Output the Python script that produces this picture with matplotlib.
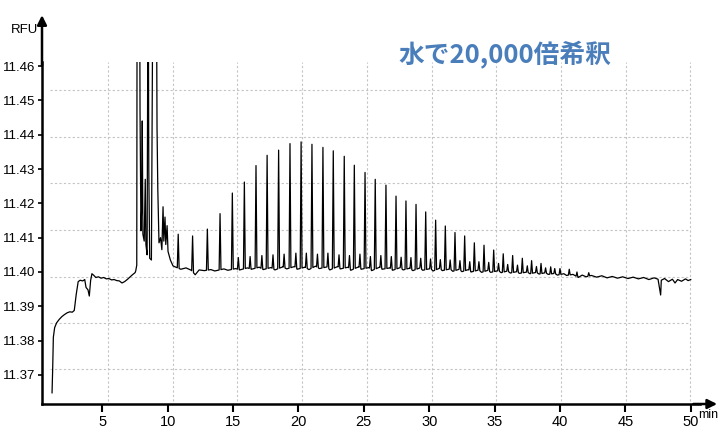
import numpy as np
import matplotlib
matplotlib.use("Agg")
import matplotlib.pyplot as plt

# --- trace (time in min, signal in RFU) ---
# baseline part of the trace, including the start-up drift
base_t = [1.15, 1.20, 1.25, 1.35, 1.50, 1.70, 1.90, 2.10, 2.30, 2.50, 2.70, 2.85,
          3.00, 3.15, 3.30, 3.50, 3.65, 3.75, 3.90, 4.00, 4.10, 4.20, 4.35, 4.50,
          4.70, 4.90, 5.10, 5.30, 5.50, 5.70, 5.90, 6.10, 6.30, 6.50, 6.70, 6.90,
          7.10, 7.30, 7.50,
          10.5, 11.0, 11.4, 11.8, 12.1, 12.4, 12.8, 13.3, 13.6, 14.3, 14.6, 15.2,
          15.5, 16.1, 16.4, 17.0, 17.3, 17.9, 18.2, 18.8, 19.1, 19.7, 19.9, 20.5,
          20.8, 21.3, 21.6, 22.2, 22.4, 23.0, 23.2, 23.8, 24.0, 24.6, 24.8, 25.4,
          25.6, 26.2, 26.4, 27.0, 27.2, 27.8, 28.0, 28.5, 28.75, 29.3, 29.5, 30.1,
          30.3, 30.8, 31.0, 31.6, 31.8, 32.3, 32.5, 33.0, 33.2, 33.8, 34.0, 34.5,
          34.7, 35.3, 35.5, 36.0, 36.2, 36.7, 36.9, 37.5, 37.7, 38.2, 38.4, 38.9,
          39.1, 39.6, 39.8, 40.3, 40.5, 41.0, 41.4, 41.7, 42.0, 42.4, 42.8, 43.2,
          43.6, 44.0, 44.4, 44.8, 45.2, 45.6, 46.0, 46.4, 46.8, 47.2, 47.5, 47.7,
          47.75, 48.0, 48.3, 48.6, 48.8, 49.0, 49.3, 49.6, 49.8, 50.0]
base_v = [11.3648, 11.3720, 11.3810, 11.3838, 11.3852, 11.3862, 11.3870, 11.3876,
          11.3881, 11.3884, 11.3883, 11.3888, 11.3935, 11.3972, 11.3976, 11.3974,
          11.3978, 11.3955, 11.3948, 11.3930, 11.3975, 11.3995, 11.3990, 11.3984,
          11.3986, 11.3982, 11.3984, 11.3980, 11.3981, 11.3977, 11.3978, 11.3975,
          11.3974, 11.3968, 11.3972, 11.3978, 11.3985, 11.3992, 11.3998,
          11.4016, 11.4008, 11.4012, 11.4005, 11.3992, 11.4006, 11.4004, 11.4007,
          11.4003, 11.4009, 11.4005, 11.4010, 11.4006, 11.4012, 11.4008, 11.4014,
          11.4007, 11.4013, 11.4006, 11.4015, 11.4009, 11.4016, 11.4008, 11.4014,
          11.4007, 11.4017, 11.4010, 11.4015, 11.4006, 11.4016, 11.4009, 11.4014,
          11.4005, 11.4015, 11.4008, 11.4013, 11.4004, 11.4014, 11.4008, 11.4012,
          11.4005, 11.4013, 11.4006, 11.4011, 11.4004, 11.4012, 11.4005, 11.4010,
          11.4003, 11.4011, 11.4004, 11.4009, 11.4002, 11.4008, 11.4001, 11.4007,
          11.4000, 11.4006, 11.3999, 11.4005, 11.3999, 11.4004, 11.3998, 11.4003,
          11.3997, 11.4001, 11.3996, 11.4000, 11.3995, 11.3999, 11.3994, 11.3998,
          11.3993, 11.3996, 11.3991, 11.3995, 11.3990, 11.3993, 11.3984, 11.3991,
          11.3986, 11.3990, 11.3985, 11.3989, 11.3983, 11.3987, 11.3982, 11.3986,
          11.3981, 11.3985, 11.3980, 11.3984, 11.3978, 11.3983, 11.3979, 11.3933,
          11.3976, 11.3981, 11.3972, 11.3979, 11.3968, 11.3978, 11.3973, 11.3980,
          11.3975, 11.3978]

# unresolved cluster just after the solvent front (tops go off scale)
cluster_t = [7.55, 7.63, 7.66, 7.84, 7.88, 7.95, 8.00, 8.05, 8.10, 8.20, 8.28,
             8.33, 8.42, 8.50, 8.55, 8.62, 8.75, 8.88, 9.12, 9.18, 9.24, 9.33,
             9.45, 9.55, 9.64, 9.70, 9.79, 9.85, 9.95, 10.02, 10.20, 10.40]
cluster_v = [11.4003, 11.4020, 11.5000, 11.5000, 11.4470, 11.4120, 11.4180,
             11.4440, 11.4110, 11.4090, 11.4270, 11.4080, 11.4050, 11.5000,
             11.4300, 11.4040, 11.4035, 11.5000, 11.5000, 11.4420, 11.4240,
             11.4085, 11.4100, 11.4065, 11.4190, 11.4090, 11.4160, 11.4080,
             11.4135, 11.4060, 11.4035, 11.4018]

# regularly spaced main peaks (apex values)
peak_t = [10.80, 11.90, 13.03, 14.00, 14.94, 15.86, 16.75, 17.60, 18.48, 19.35,
          20.20, 21.03, 21.87, 22.66, 23.50, 24.27, 25.09, 25.87, 26.69, 27.46,
          28.22, 28.99, 29.73, 30.49, 31.23, 31.97, 32.71, 33.45, 34.19, 34.93,
          35.66, 36.38, 37.12, 37.83, 38.55, 39.29, 40.00, 40.71]
peak_v = [11.4110, 11.4105, 11.4125, 11.4170, 11.4230, 11.4262, 11.4310, 11.4340,
          11.4355, 11.4374, 11.4379, 11.4372, 11.4363, 11.4353, 11.4337, 11.4311,
          11.4290, 11.4270, 11.4253, 11.4221, 11.4207, 11.4197, 11.4175, 11.4151,
          11.4134, 11.4115, 11.4105, 11.4085, 11.4078, 11.4064, 11.4053, 11.4048,
          11.4040, 11.4033, 11.4025, 11.4015, 11.4010, 11.4008]

# small peaks between the main ones
minor_t = [15.40, 16.30, 17.20, 18.05, 18.90, 19.80, 20.60, 21.45, 22.25, 23.10,
           23.90, 24.70, 25.50, 26.30, 27.10, 27.85, 28.60, 29.35, 30.10, 30.85,
           31.60, 32.35, 33.10, 33.80, 34.55, 35.30, 36.00, 36.75, 37.50, 38.20,
           38.90, 39.60, 41.30, 42.20]
minor_v = [11.4042, 11.4045, 11.4048, 11.4050, 11.4052, 11.4055, 11.4055, 11.4052,
           11.4055, 11.4050, 11.4048, 11.4052, 11.4045, 11.4048, 11.4045, 11.4043,
           11.4042, 11.4040, 11.4038, 11.4036, 11.4035, 11.4033, 11.4030, 11.4030,
           11.4028, 11.4025, 11.4022, 11.4020, 11.4018, 11.4016, 11.4012, 11.4010,
           11.4000, 11.3998]

x_ticks = [5, 10, 15, 20, 25, 30, 35, 40, 45, 50]
y_ticks = [11.37, 11.38, 11.39, 11.40, 11.41, 11.42, 11.43, 11.44, 11.45, 11.46]
title_text = "水で20,000倍希釈"
y_unit = "RFU"
x_unit = "min"

# grid of the original instrument plot (does not follow the ticks)
grid_x = [5.43, 10.40, 15.30, 20.27, 25.24, 30.21, 35.10, 40.08, 45.05, 49.94]
grid_y = [11.3718, 11.3852, 11.3985, 11.4122, 11.4259, 11.4392, 11.4529]

# --- build the polyline: baseline + cluster + narrow spikes ---
half_w = 0.07
bt = np.array(base_t + cluster_t)
bv = np.array(base_v + cluster_v)
order = np.argsort(bt)
bt, bv = bt[order], bv[order]
spk_t = np.array(peak_t + minor_t)
spk_v = np.array(peak_v + minor_v)

keep = np.ones(len(bt), dtype=bool)
for t in spk_t:
    keep &= np.abs(bt - t) > half_w
line_t = list(bt[keep])
line_v = list(bv[keep])
for t, v in zip(spk_t, spk_v):
    feet = np.interp([t - half_w, t + half_w], bt, bv)
    line_t += [t - half_w, t, t + half_w]
    line_v += [feet[0], v, feet[1]]
order = np.argsort(line_t, kind="stable")
line_t = np.array(line_t)[order]
line_v = np.array(line_v)[order]

# --- figure ---
plt.rcParams['font.family'] = ['Liberation Sans', 'DejaVu Sans']

fig = plt.figure(figsize=(7.19, 4.30), dpi=100)
ax = fig.add_axes([42 / 719, 26 / 430, 658 / 719, 342 / 430])
ax.set_xlim(0.382, 50.71)
ax.set_ylim(11.36155, 11.46117)

ax.hlines(grid_y, 1.0, 49.94, colors="#c4c4c4", linestyles=(0, (2, 2)), lw=0.8)
ax.vlines(grid_x, 11.3625, 11.46117, colors="#c4c4c4", linestyles=(0, (2, 2)), lw=0.8)

ax.plot(line_t, line_v, color="black", lw=0.9)

ax.set_xticks(x_ticks)
ax.set_yticks(y_ticks)
ax.set_yticklabels([f"{v:.2f}" for v in y_ticks])
ax.tick_params(axis="x", direction="out", length=6, width=1.5, labelsize=10.5, pad=2)
ax.tick_params(axis="y", direction="out", length=3, width=1.2, labelsize=9.5, pad=1.5)

for side in ("top", "right"):
    ax.spines[side].set_visible(False)
for side in ("left", "bottom"):
    ax.spines[side].set_linewidth(1.8)

# axis arrows
arrow = dict(arrowstyle="-|>", color="black", lw=1.8, mutation_scale=14, shrinkA=0, shrinkB=0)
ax.annotate("", xy=(0, 1.137), xytext=(0, 0.99), xycoords="axes fraction",
            textcoords="axes fraction", arrowprops=arrow, annotation_clip=False)
ax.annotate("", xy=(1.026, 0), xytext=(0.99, 0), xycoords="axes fraction",
            textcoords="axes fraction", arrowprops=arrow, annotation_clip=False)
ax.text(-0.006, 1.095, y_unit, transform=ax.transAxes, ha="right", va="center", fontsize=9.5)
fig.text(0.999, 0.035, x_unit, ha="right", va="center", fontsize=9)

fig.text(0.702, 0.872, title_text, fontsize=18.5, fontweight="bold", color="#4A7EBB",
         family=["Noto Sans CJK JP", "DejaVu Sans"], ha="center", va="center")

fig.savefig("out.png", dpi=100)
